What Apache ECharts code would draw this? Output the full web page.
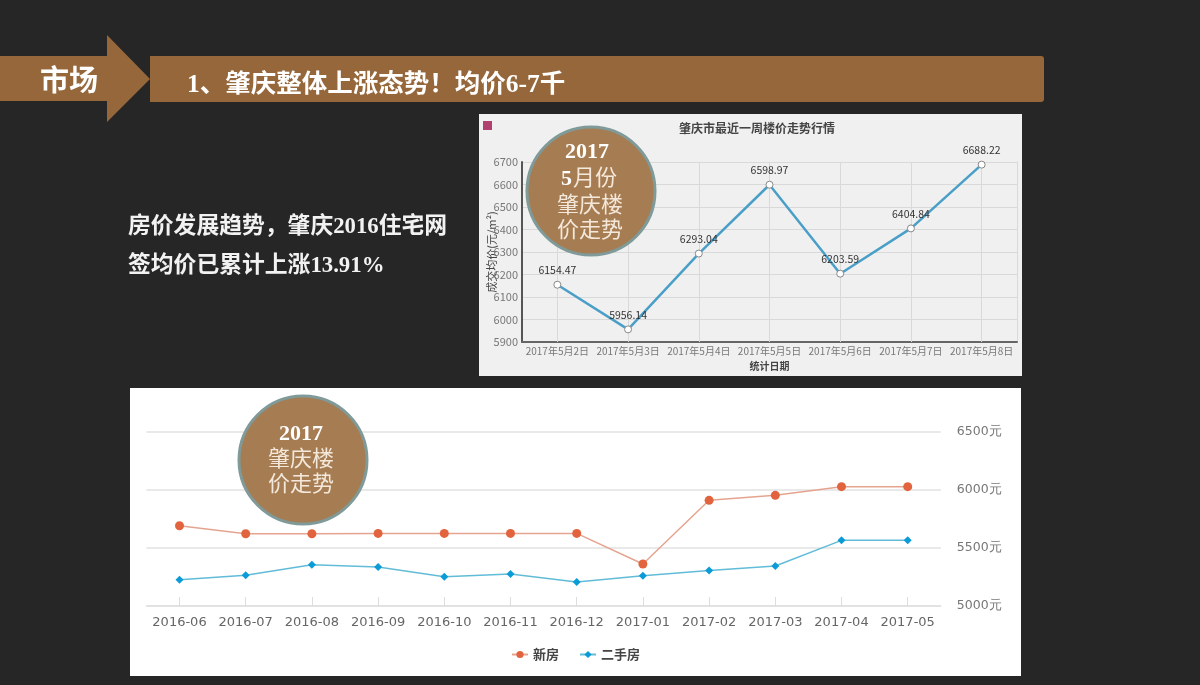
<!DOCTYPE html>
<html>
<head>
<meta charset="utf-8">
<title>肇庆楼价走势</title>
<script src="https://cdn.jsdelivr.net/npm/echarts@6/dist/echarts.min.js"></script>
<style>
html, body { margin: 0; padding: 0; background: #262626; }
#main { width: 1200px; height: 685px; }
</style>
</head>
<body>
<div id="main"></div>
<script>
// 最近一周
const weekDates = ['2017年5月2日', '2017年5月3日', '2017年5月4日', '2017年5月5日', '2017年5月6日', '2017年5月7日', '2017年5月8日'];
const weekPrices = [6154.47, 5956.14, 6293.04, 6598.97, 6203.59, 6404.84, 6688.22];

// 2016-06 ~ 2017-05
const months = ['2016-06', '2016-07', '2016-08', '2016-09', '2016-10', '2016-11', '2016-12', '2017-01', '2017-02', '2017-03', '2017-04', '2017-05'];
const newHouse = [5692, 5623, 5623, 5626, 5626, 5626, 5626, 5362, 5911, 5954, 6029, 6029];
const oldHouse = [5227, 5265, 5356, 5336, 5253, 5276, 5207, 5261, 5307, 5345, 5566, 5566];

const serif = '"Liberation Serif", "Noto Sans CJK SC", serif';
const sans = '"Noto Sans CJK SC", sans-serif';
const brown = '#96673a';

function text(x, y, str, size, color, weight, align, family) {
    return {
        type: 'text', z: 101, x: x, y: y,
        style: {
            text: str, fontSize: size, fill: color, fontWeight: weight || 'normal',
            fontFamily: family || serif, align: align || 'left', verticalAlign: 'middle'
        }
    };
}

function badge(cx, cy) {
    return {
        type: 'circle', z: 100, shape: { cx: cx, cy: cy, r: 64 },
        style: { fill: '#a67c52', stroke: '#7f9a98', lineWidth: 3 }
    };
}

const graphics = [
    // 底板
    { type: 'rect', z: -10, shape: { x: 479, y: 114, width: 543, height: 262 }, style: { fill: '#f0f0f0' } },
    { type: 'rect', z: -10, shape: { x: 130, y: 388, width: 891, height: 288 }, style: { fill: '#ffffff' } },
    // 标题条
    {
        type: 'polygon', z: 1,
        shape: { points: [[0, 56], [107, 56], [107, 35], [150, 79], [107, 122], [107, 101], [0, 101]] },
        style: { fill: brown }
    },
    { type: 'rect', z: 1, shape: { x: 150, y: 56, width: 894, height: 46, r: [0, 3, 3, 0] }, style: { fill: brown } },
    text(40, 80, '市场', 29, '#ffffff', 'bold', 'left', sans),
    text(187, 85, '1、肇庆整体上涨态势！均价6-7千', 25.5, '#ffffff', 'bold'),
    text(128, 227, '房价发展趋势，肇庆2016住宅网', 22.8, '#f2f2f2', 'bold'),
    text(128, 266, '签均价已累计上涨13.91%', 22.8, '#f2f2f2', 'bold'),
    // 上图标题
    { type: 'rect', z: 1, shape: { x: 483, y: 121, width: 9, height: 9 }, style: { fill: '#b0406e' } },
    text(757, 128, '肇庆市最近一周楼价走势行情', 12, '#444444', 'bold', 'center', sans),
    // 圆形标注
    badge(591, 191),
    text(587, 152, '2017', 22, '#ffffff', 'bold', 'center'),
    text(561, 179, '5', 22, '#ffffff', 'bold'),
    text(573, 179, '月份', 22, '#f3e8da'),
    text(590, 206, '肇庆楼', 22, '#f3e8da', 'normal', 'center'),
    text(590, 231, '价走势', 22, '#f3e8da', 'normal', 'center'),
    badge(303, 460),
    text(301, 434, '2017', 22, '#ffffff', 'bold', 'center'),
    text(301, 460, '肇庆楼', 22, '#f3e8da', 'normal', 'center'),
    text(301, 485, '价走势', 22, '#f3e8da', 'normal', 'center')
];

const chart = echarts.init(document.getElementById('main'));
chart.setOption({
    animation: false,
    backgroundColor: '#262626',
    graphic: graphics,
    grid: [
        { left: 522, top: 162, width: 495, height: 180 },
        { left: 146.4, top: 432, width: 794.4, height: 174 }
    ],
    legend: {
        data: ['新房', '二手房'],
        left: 511, top: 648, padding: 0, itemWidth: 16, itemHeight: 9, itemGap: 20,
        textStyle: { fontFamily: sans, fontSize: 13, fontWeight: 'bold', color: '#444444' }
    },
    xAxis: [
        {
            type: 'category', gridIndex: 0, data: weekDates,
            name: '统计日期', nameLocation: 'middle', nameGap: 19, nameMoveOverlap: false,
            nameTextStyle: { fontFamily: sans, fontSize: 10, fontWeight: 'bold', color: '#444444' },
            axisLine: { lineStyle: { color: '#666666', width: 2 } },
            axisTick: { show: true, alignWithLabel: true, inside: true, length: 180, lineStyle: { color: '#d9d9d9' } },
            axisLabel: { interval: 0, margin: 4, fontFamily: sans, fontSize: 10, color: '#777777' }
        },
        {
            type: 'category', gridIndex: 1, data: months,
            axisLine: { lineStyle: { color: '#e0e0e0', width: 1.5 } },
            axisTick: { show: true, alignWithLabel: true, inside: true, length: 9, lineStyle: { color: '#dddddd' } },
            axisLabel: { interval: 0, margin: 10, fontFamily: 'DejaVu Sans', fontSize: 13, color: '#666666' }
        }
    ],
    yAxis: [
        {
            type: 'value', gridIndex: 0, min: 5900, max: 6700, interval: 100,
            name: '成交均价(元/m²)', nameLocation: 'middle', nameGap: 25, nameMoveOverlap: false,
            nameTextStyle: { fontFamily: sans, fontSize: 11, color: '#444444' },
            axisLine: { show: true, lineStyle: { color: '#555555', width: 2 } },
            axisTick: { show: false },
            axisLabel: { margin: 4, fontFamily: sans, fontSize: 11, color: '#777777', formatter: function (v) { return String(v); } },
            splitLine: { lineStyle: { color: '#d9d9d9' } }
        },
        {
            type: 'value', gridIndex: 0, position: 'right', min: 5900, max: 6700, interval: 100,
            axisLine: { show: true, lineStyle: { color: '#d9d9d9' } },
            axisTick: { show: false },
            axisLabel: { show: false },
            splitLine: { show: false }
        },
        {
            type: 'value', gridIndex: 1, position: 'right', min: 5000, max: 6500, interval: 500,
            axisLine: { show: false },
            axisTick: { show: false },
            axisLabel: { margin: 16, fontFamily: 'DejaVu Sans', fontSize: 12.5, color: '#777777', formatter: function (v) { return v + '元'; } },
            splitLine: { lineStyle: { color: '#e2e2e2', width: 1.5 } }
        }
    ],
    series: [
        {
            name: '最近一周', type: 'line', xAxisIndex: 0, yAxisIndex: 0, data: weekPrices,
            symbol: 'circle', symbolSize: 7,
            lineStyle: { color: '#4a9fc8', width: 2.5 },
            itemStyle: { color: '#ffffff', borderColor: '#888888', borderWidth: 1 },
            label: { show: true, position: 'top', distance: 5, fontFamily: sans, fontSize: 10.5, color: '#333333' }
        },
        {
            name: '新房', type: 'line', xAxisIndex: 1, yAxisIndex: 2, data: newHouse,
            symbol: 'circle', symbolSize: 9,
            lineStyle: { color: '#e5a48f', width: 1.5 },
            itemStyle: { color: '#e2643e' }
        },
        {
            name: '二手房', type: 'line', xAxisIndex: 1, yAxisIndex: 2, data: oldHouse,
            symbol: 'diamond', symbolSize: 8,
            lineStyle: { color: '#62bcd8', width: 1.5 },
            itemStyle: { color: '#0b9bd7' }
        }
    ]
});
</script>
</body>
</html>
